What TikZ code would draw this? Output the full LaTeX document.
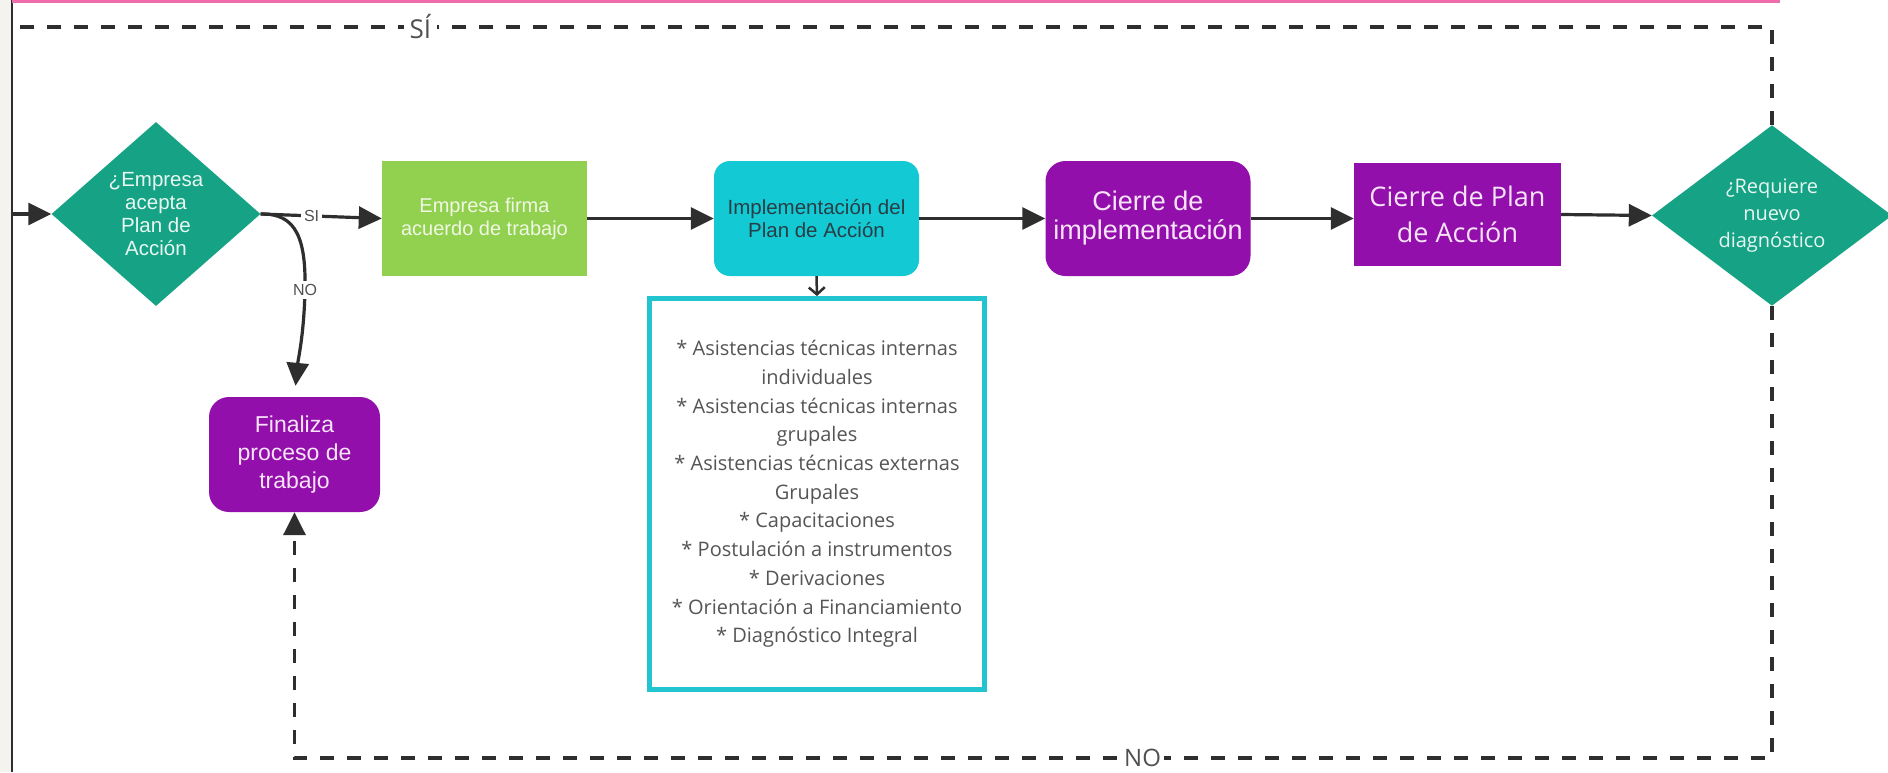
\documentclass[tikz,border=0pt]{standalone}
\usepackage{fontspec}
\setmainfont{Liberation Sans}
\newfontfamily\opensans{Open Sans}
\usetikzlibrary{shapes.geometric,arrows.meta}
\definecolor{diamondteal}{RGB}{22,163,133}
\definecolor{boxgreen}{RGB}{146,208,80}
\definecolor{boxcyan}{RGB}{19,201,212}
\definecolor{boxpurple}{RGB}{146,15,171}
\definecolor{listcyan}{RGB}{34,197,207}
\definecolor{linedark}{RGB}{46,46,46}
\definecolor{toppink}{RGB}{238,109,170}
\definecolor{stripgray}{RGB}{244,243,238}
\definecolor{labelgray}{RGB}{80,80,80}
\definecolor{tealtext}{RGB}{40,62,70}
\definecolor{listtext}{RGB}{85,85,85}
\definecolor{greentext}{RGB}{240,248,228}
\definecolor{purpletext}{RGB}{248,228,248}
\definecolor{diamondtext}{RGB}{232,247,241}
\begin{document}
\begin{tikzpicture}[x=1pt,y=-1pt,
  flow/.style={draw=linedark,line width=3.2pt,-{Triangle[length=23pt,width=22pt]}},
  backloop/.style={draw=linedark,line width=3.5pt,dash pattern=on 14pt off 13pt},
  decision/.style={diamond,fill=diamondteal,inner sep=0pt,text=diamondtext,align=center},
  procbox/.style={minimum width=205pt,minimum height=115pt,inner sep=0pt,align=center},
  edgelabel/.style={fill=white,inner sep=3pt,text=labelgray}]
\useasboundingbox (0,0) rectangle (1888,772);
\fill[white] (0,0) rectangle (1888,772);
\fill[stripgray] (0,0) rectangle (11,772);
\draw[linedark,line width=2pt] (12,0) -- (12,772);
\draw[toppink,line width=3pt] (12,1.5) -- (1780,1.5);

% nodes
\node[decision,minimum width=209pt,minimum height=184pt,font=\fontsize{20.5}{23}\selectfont] (q1) at (156,214) {¿Empresa\\acepta\\Plan de\\Acción};
\node[procbox,fill=boxgreen,text=greentext,font=\fontsize{20}{23}\selectfont] (firma) at (484.5,218.5) {Empresa firma\\acuerdo de trabajo};
\node[procbox,fill=boxcyan,rounded corners=16pt,text=tealtext,font=\fontsize{20.5}{23}\selectfont] (impl) at (816.5,218.5) {Implementación del\\Plan de Acción};
\node[procbox,fill=boxpurple,rounded corners=20pt,text=purpletext,font=\fontsize{27}{29}\selectfont] (cierreimpl) at (1148,218.5) {Cierre de\\implementación};
\node[minimum width=207pt,minimum height=103pt,inner sep=0pt,align=center,fill=boxpurple,text=purpletext,font=\opensans\fontsize{27}{36}\selectfont] (cierreplan) at (1457.5,214.5) {Cierre de Plan\\de Acción};
\node[decision,minimum width=240pt,minimum height=171pt,font=\opensans\fontsize{20}{27}\selectfont] (q2) at (1772,215.5) {¿Requiere\\nuevo\\diagnóstico};
\node[fill=boxpurple,rounded corners=20pt,minimum width=171pt,minimum height=115pt,inner sep=0pt,align=center,text=purpletext,font=\fontsize{23}{28}\selectfont] (fin) at (294.5,454.5) {Finaliza\\proceso de\\trabajo};
\node[draw=listcyan,line width=5pt,fill=white,minimum width=335pt,minimum height=391pt,inner sep=0pt,align=center,text=listtext,font=\opensans\fontsize{20}{28.7}\selectfont] (lista) at (817,494) {* Asistencias técnicas internas\\individuales\\* Asistencias técnicas internas\\grupales\\* Asistencias técnicas externas\\Grupales\\* Capacitaciones\\* Postulación a instrumentos\\* Derivaciones\\* Orientación a Financiamiento\\* Diagnóstico Integral};

% coordinates for loop-back lines
\coordinate (entry) at (12,214);
\coordinate (topright) at (1772,27);
\coordinate (topleft) at (12,27);
\coordinate (botright) at (1772,758);
\coordinate (botleft) at (294.5,758);

% connectors
\draw[flow] (entry) -- (q1.west);
\draw[flow] (q1.east) -- node[edgelabel,pos=0.42,font=\fontsize{16}{16}\selectfont] (silabel) {SI} (firma.west);
\draw[flow,shorten >=11pt] (q1.east) .. controls (297,213) and (306,240) .. (305,290)
  node[edgelabel,font=\fontsize{16}{16}\selectfont] (nolabel) {NO}
  .. controls (304,335) and (298,360) .. (fin.north);
\draw[flow] (firma.east) -- (impl.west);
\draw[flow] (impl.east) -- (cierreimpl.west);
\draw[flow] (cierreimpl.east) -- (cierreimpl.east -| cierreplan.west);
\draw[flow] (cierreplan.east) -- (q2.west);
\draw[draw=linedark,line width=2.5pt,-{Straight Barb[length=7pt,width=16pt]}] (impl.south) -- (lista.north);
\draw[backloop] (q2.north) -- (topright) -- node[edgelabel,inner sep=6pt,pos=0.768,font=\opensans\fontsize{26}{26}\selectfont] (silabeltop) {SÍ} (topleft);
\draw[backloop,-{Triangle[length=23pt,width=22pt]}] (q2.south) -- (botright) -- node[edgelabel,pos=0.426,font=\opensans\fontsize{24}{24}\selectfont] (nolabelbot) {NO} (botleft) -- (fin.south);
\end{tikzpicture}
\end{document}
